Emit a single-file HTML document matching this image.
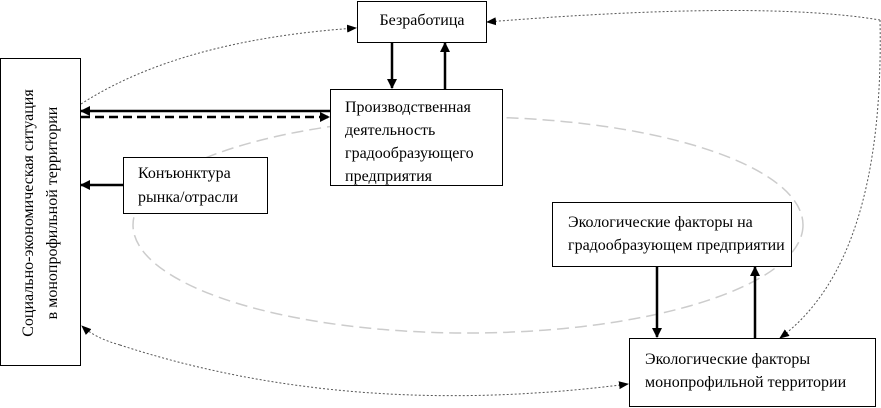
<!DOCTYPE html>
<html><head><meta charset="utf-8"><style>
body{margin:0;width:881px;height:408px;background:#fff;position:relative;overflow:hidden;font-family:"Liberation Serif","Times New Roman","DejaVu Serif",serif;}
.b{position:absolute;border:1.5px solid #000;background:#fff;box-sizing:border-box;font-size:16px;line-height:23px;color:#000}
</style></head><body>
<svg width="881" height="408" style="position:absolute;left:0;top:0">
<defs>
<marker id="a" markerWidth="10" markerHeight="10" refX="9" refY="5" orient="auto" markerUnits="userSpaceOnUse"><path d="M0,0 L10,5 L0,10 z" fill="#000"/></marker>
<marker id="s" markerWidth="10" markerHeight="10" refX="9" refY="5" orient="auto" markerUnits="userSpaceOnUse"><path d="M0,1 L10,5 L0,9 z" fill="#000"/></marker>
</defs>
<ellipse cx="468" cy="225" rx="335" ry="108" fill="none" stroke="#ccc" stroke-width="1.5" stroke-dasharray="12,6"/>
<g stroke="#000" stroke-width="2.5" fill="none">
<line x1="392" y1="42" x2="392" y2="88" marker-end="url(#a)"/>
<line x1="445" y1="89" x2="445" y2="43" marker-end="url(#a)"/>
<line x1="330" y1="111" x2="81" y2="111" marker-end="url(#a)"/>
<line x1="81" y1="117" x2="329" y2="117" stroke-dasharray="9,5" marker-end="url(#a)"/>
<line x1="123" y1="185" x2="81" y2="185" marker-end="url(#a)"/>
<line x1="657" y1="266" x2="657" y2="337" marker-end="url(#a)"/>
<line x1="755" y1="338" x2="755" y2="267" marker-end="url(#a)"/>
</g>
<g stroke="#555" stroke-width="1" fill="none" stroke-dasharray="2,2">
<path d="M81,104 Q180,40 356,28" marker-end="url(#s)"/>
<path d="M880,20 Q760,0 487,22" marker-end="url(#s)"/>
<path d="M880,20 Q885,260 780,338" marker-end="url(#s)"/>
<path d="M120,345 Q350,420 628,384" marker-end="url(#s)"/>
<path d="M120,345 Q95,338 82,326" marker-end="url(#s)"/>
</g>
</svg>
<div class="b" style="left:357px;top:1px;width:130px;height:42px;text-align:center;line-height:38px">Безработица</div>
<div class="b" style="left:0;top:58px;width:81px;height:308px"><div style="position:absolute;left:40px;top:154px;width:300px;transform:translate(-50%,-50%) rotate(-90deg);text-align:center;line-height:24px;white-space:nowrap">Социально-экономическая ситуация<br>в монопрофильной территории</div></div>
<div class="b" style="left:330px;top:89px;width:173px;height:97px;padding:6px 0 0 14px">Производственная<br>деятельность<br>градообразующего<br>предприятия</div>
<div class="b" style="left:123px;top:157px;width:145px;height:57px;padding:4px 0 0 14px;line-height:24px">Конъюнктура<br>рынка/отрасли</div>
<div class="b" style="left:552px;top:202px;width:240px;height:65px;padding:8px 0 0 15px">Экологические факторы на<br>градообразующем предприятии</div>
<div class="b" style="left:629px;top:338px;width:247px;height:69px;padding:9px 0 0 15px">Экологические факторы<br>монопрофильной территории</div>
</body></html>
